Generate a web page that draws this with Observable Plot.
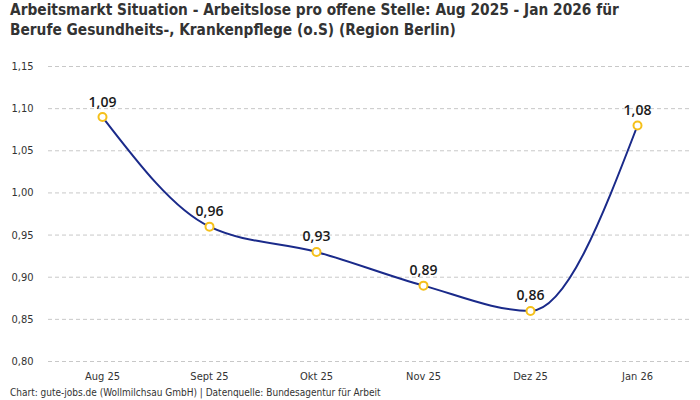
<!DOCTYPE html>
<html><head><meta charset="utf-8">
<script src="https://cdn.jsdelivr.net/npm/d3@7"></script>
<script src="https://cdn.jsdelivr.net/npm/@observablehq/plot@0.6"></script>
<style>
body{margin:0;background:#fff;font-family:"DejaVu Sans Condensed",sans-serif;}
#wrap{width:700px;height:400px;position:relative;overflow:hidden;}
#title{position:absolute;left:10px;top:1px;font-size:15.3px;font-weight:bold;line-height:19.5px;color:#333;}
#chart{position:absolute;left:0;top:48px;}
#cap{position:absolute;left:10px;top:387px;font-size:10px;color:#333;}
</style></head><body>
<div id="wrap">
<div id="title">Arbeitsmarkt Situation - Arbeitslose pro offene Stelle: Aug 2025 - Jan 2026 für<br>Berufe Gesundheits-, Krankenpflege (o.S) (Region Berlin)</div>
<div id="chart"></div>
<div id="cap">Chart: gute-jobs.de (Wollmilchsau GmbH) | Datenquelle: Bundesagentur für Arbeit</div>
</div>
<script>
const months = ["Aug 25","Sept 25","Okt 25","Nov 25","Dez 25","Jan 26"];
const values = [1.09, 0.96, 0.93, 0.89, 0.86, 1.08];
const yTicks = [0.80,0.85,0.90,0.95,1.00,1.05,1.10,1.15];
const data = months.map((m,i)=>({month:m, value:values[i]}));
const fmt = v => d3.format(".2f")(v).replace(".", ",");
const plot = Plot.plot({
  width:700, height:340,
  marginTop:18, marginBottom:27, marginLeft:48, marginRight:10,
  style:{fontFamily:'"DejaVu Sans Condensed",sans-serif', fontSize:"11px", color:"#333"},
  x:{type:"point", domain:months, padding:0.5, label:null},
  y:{domain:[0.80,1.15], label:null},
  marks:[
    Plot.gridY(yTicks,{stroke:"#c8c8c8", strokeOpacity:1, strokeDasharray:"4,3"}),
    Plot.axisY(yTicks,{tickSize:0, tickPadding:15, tickFormat:fmt, label:null}),
    Plot.axisX({tickSize:0, tickPadding:11, label:null}),
    Plot.line(data,{x:"month", y:"value", curve:"monotone-x", stroke:"#1a2a8a", strokeWidth:2}),
    Plot.dot(data,{x:"month", y:"value", r:4, stroke:"#f5c01a", strokeWidth:2, fill:"white"}),
    Plot.text(data,{x:"month", y:"value", text:d=>fmt(d.value), dy:-15, fontSize:14, fontWeight:600, fill:"#1a1a1a", fontFamily:'"Open Sans",sans-serif'})
  ]
});
document.getElementById("chart").appendChild(plot);
</script>
</body></html>
